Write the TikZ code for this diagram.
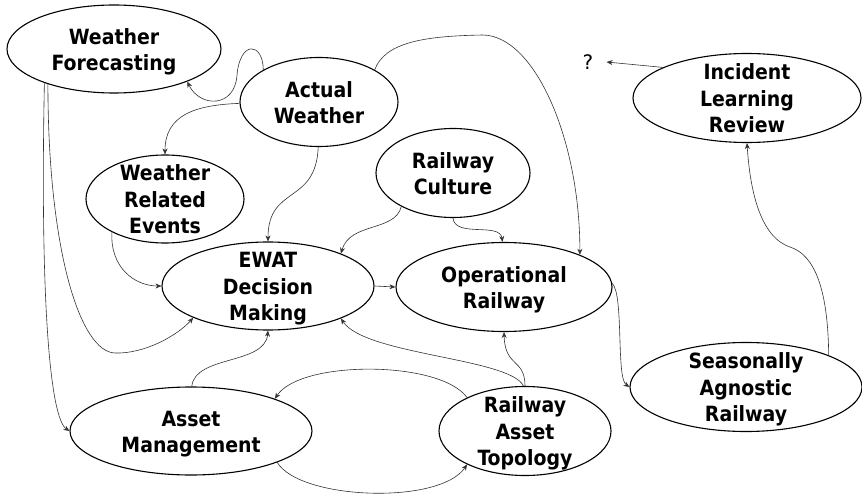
\documentclass[tikz,border=0pt]{standalone}
\usepackage{fontspec}
\setmainfont{DejaVu Sans}
\newfontfamily\heavysans{DejaVu Sans Condensed}
\usetikzlibrary{shapes.geometric,arrows.meta}
% centred label block, set a little below the shape's centre
\newcommand\ctext[1]{\raisebox{-3pt}[\height][\depth]{\begin{tabular}{@{}c@{}}#1\end{tabular}}}
\begin{document}
\begin{tikzpicture}[x=1pt,y=-1pt,
  concept/.style={ellipse, draw, line width=1.1pt, inner sep=0pt, inner ysep=-14pt,
    font=\heavysans\fontsize{21}{26.5}\selectfont\bfseries},
  link/.style={draw=black!80, line width=0.6pt, -{Stealth[length=6pt,width=5pt]}}]
\useasboundingbox (0,0) rectangle (862,497);

% concepts
\node[concept, minimum width=214pt, minimum height=88pt] (wf)   at (114,49)  {\ctext{Weather\\Forecasting}};
\node[concept, minimum width=158pt, minimum height=89pt] (aw)   at (319,102) {\ctext{Actual\\Weather}};
\node[concept, minimum width=158pt, minimum height=88pt] (wre)  at (165,199) {\ctext{Weather\\Related\\Events}};
\node[concept, minimum width=154pt, minimum height=89pt] (rc)   at (453,173) {\ctext{Railway\\Culture}};
\node[concept, minimum width=212pt, minimum height=88pt] (ewat) at (268,286) {\ctext{EWAT\\Decision\\Making}};
\node[concept, minimum width=216pt, minimum height=89pt] (or)   at (504,287) {\ctext{Operational\\Railway}};
\node[concept, minimum width=228pt, minimum height=89pt] (ilr)  at (747,98)  {\ctext{Incident\\Learning\\Review}};
\node[concept, minimum width=232pt, minimum height=89pt] (sar)  at (746,387) {\ctext{Seasonally\\Agnostic\\Railway}};
\node[concept, minimum width=242pt, minimum height=88pt] (am)   at (191,431) {\ctext{Asset\\Management}};
\node[concept, minimum width=172pt, minimum height=89pt] (rat)  at (525,431) {\ctext{Railway\\Asset\\Topology}};
\node[inner sep=0pt, inner xsep=13pt, font=\fontsize{20}{24}\selectfont] (q) at (588,62) {?};

% influences
\draw[link] (aw.150) .. controls (263,42) and (240,40) .. (237,75)
                      .. controls (235,108) and (200,108) .. (wf.-24);
\draw[link] (aw.181) .. controls (195,105) and (165,115) .. (wre.90);
\draw[link] (aw.269) .. controls (316,205) and (268,185) .. (ewat.90);
\draw[link] (wre.212) .. controls (110,268) and (135,286) .. (ewat.180);
\draw[link] (wf.206) .. controls (40,300) and (50,418) .. (am.180);
\draw[link] (wf.208) .. controls (48,250) and (80,352) .. (115,353)
                     .. controls (145,354) and (178,335) .. (ewat.203);
\draw[link] (ewat.0) -- (or.180);
\draw[link] (rc.213) .. controls (395,232) and (350,222) .. (ewat.24);
\draw[link] (rc.270) .. controls (455,238) and (500,222) .. (or.92);
\draw[link] (aw.30) .. controls (385,42) and (425,36) .. (483,35)
                    .. controls (535,36) and (580,140) .. (or.23);
\draw[link] (ilr.160) -- (q.east);
\draw[link] (sar.21) .. controls (828,290) and (815,255) .. (790,247)
                     .. controls (760,237) and (750,190) .. (ilr.270);
\draw[link] (or.2) .. controls (624,295) and (616,378) .. (sar.180);
\draw[link] (rat.90) .. controls (525,358) and (505,368) .. (or.270);
\draw[link] (rat.92) .. controls (510,358) and (365,355) .. (ewat.336);
\draw[link] (rat.150) .. controls (440,360) and (300,360) .. (am.21);
\draw[link] (am.-20) .. controls (300,500) and (440,505) .. (rat.210);
\draw[link] (am.89) .. controls (195,355) and (265,365) .. (ewat.270);
\end{tikzpicture}
\end{document}
